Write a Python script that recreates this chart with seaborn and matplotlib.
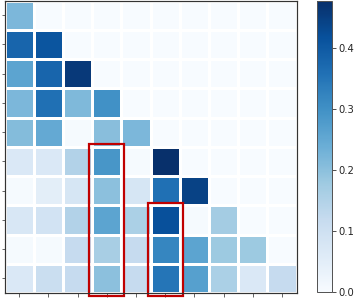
import numpy as np
import pandas as pd

import matplotlib
matplotlib.use('Agg')
import matplotlib.pyplot as plt
from matplotlib.patches import Rectangle
import seaborn as sns

sns.set_style('white')

# lower-triangle values, one list per row (upper triangle is zero)
row0 = [0.22]
row1 = [0.38, 0.41]
row2 = [0.26, 0.38, 0.46]
row3 = [0.22, 0.36, 0.215, 0.30]
row4 = [0.21, 0.25, 0.005, 0.205, 0.22]
row5 = [0.07, 0.07, 0.15, 0.29, 0.005, 0.478]
row6 = [0.005, 0.05, 0.08, 0.20, 0.08, 0.36, 0.445]
row7 = [0.075, 0.09, 0.15, 0.26, 0.16, 0.42, 0.005, 0.17]
row8 = [0.005, 0.005, 0.12, 0.165, 0.12, 0.32, 0.26, 0.18, 0.18]
row9 = [0.07, 0.11, 0.12, 0.20, 0.12, 0.35, 0.27, 0.16, 0.07, 0.12]
rows = [row0, row1, row2, row3, row4, row5, row6, row7, row8, row9]

n = len(rows)
mat = np.zeros((n, n))
for i, r in enumerate(rows):
    mat[i, :len(r)] = r
df = pd.DataFrame(mat)

fig = plt.figure(figsize=(357/72, 299/72), dpi=72)
ax = fig.add_axes([4.5/357, 1-293/299, 292/357, 292.5/299])
cax = fig.add_axes([316.7/357, 1-292/299, 15/357, 291/299])

sns.heatmap(df, cmap='Blues', vmin=0, vmax=0.478, linewidths=1.2, linecolor='white',
            ax=ax, cbar_ax=cax, xticklabels=False, yticklabels=False)

ax.set_xticks(np.arange(n)+0.5)
ax.set_yticks(np.arange(n)+0.5)
ax.set_xticklabels([])
ax.set_yticklabels([])
ax.tick_params(axis='both', length=3.5, width=0.8, color='#444444', bottom=True, left=True)
for s in ax.spines.values():
    s.set_visible(True)
    s.set_color('#333333')
    s.set_linewidth(1.2)

cbar = ax.collections[0].colorbar
cbar.set_ticks([0.0, 0.1, 0.2, 0.3, 0.4])
cax.tick_params(labelsize=10, length=3.5, width=0.8, right=True)
cbar.outline.set_visible(True)
cbar.outline.set_edgecolor('#555555')
cbar.outline.set_linewidth(1.0)

# highlight boxes
ax.add_patch(Rectangle((2.88, 4.9), 1.2, 5.2, fill=False, edgecolor='#c00000', lw=2.2, clip_on=False))
ax.add_patch(Rectangle((4.9, 6.94), 1.23, 3.16, fill=False, edgecolor='#c00000', lw=2.2, clip_on=False))

fig.savefig('out.png', dpi=72)
